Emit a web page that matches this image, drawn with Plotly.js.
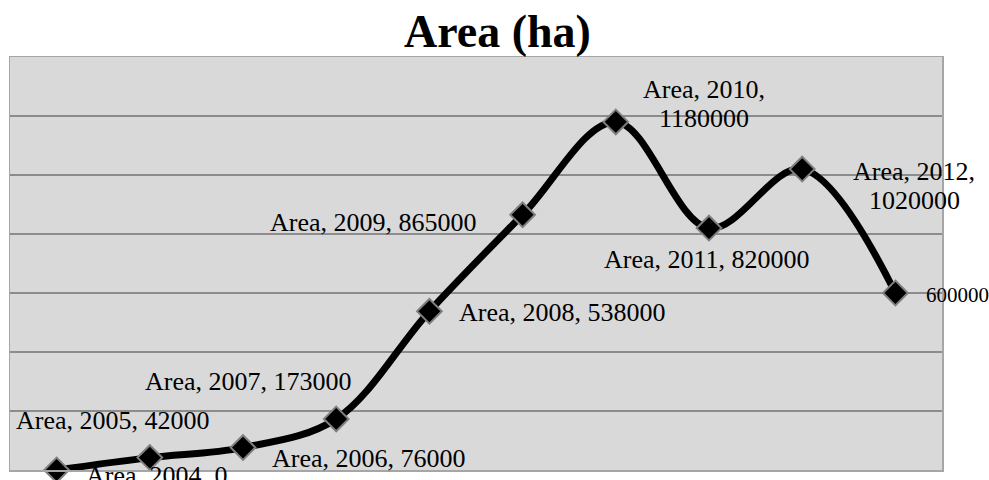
<!DOCTYPE html>
<html>
<head>
<meta charset="utf-8">
<script src="https://cdn.plot.ly/plotly-3.0.1.min.js"></script>
<style>html,body{margin:0;padding:0;background:#fff;}#chart{width:989px;height:480px;}</style>
</head>
<body>
<div id="chart"></div>
<script>
// ---- data ----
var seriesName = "Area";
var years = ["2004", "2005", "2006", "2007", "2008", "2009", "2010", "2011", "2012", "2013"];
var areaValues = [0, 42000, 76000, 173000, 538000, 865000, 1180000, 820000, 1020000, 600000];
// label style per point: "line" = one line, "wrap" = two lines, "value" = value only
var labelKinds = ["line", "line", "line", "line", "line", "line", "wrap", "line", "wrap", "value"];

// ---- label placement (pixel offsets from each point) ----
var labelDx = [100, -37, 126, -88, 133, -149, 88, -2, 112, 62];
var labelDy = [-5, 37, -11, 37, -1, -8, 18, -31, -17, -2];
var wrapGap = 29; // distance between the two lines of a wrapped label

var serif = "Liberation Serif, Times New Roman, serif";

function labelLines(i) {
  var k = labelKinds[i];
  if (k === "value") return [String(areaValues[i])];
  if (k === "wrap") return [seriesName + ", " + years[i] + ",", String(areaValues[i])];
  return [seriesName + ", " + years[i] + ", " + areaValues[i]];
}

var annotations = [];
years.forEach(function (y, i) {
  var lines = labelLines(i);
  lines.forEach(function (t, j) {
    var off = (lines.length - 1) / 2 - j;
    annotations.push({
      x: i, y: areaValues[i], xref: "x", yref: "y",
      text: t, showarrow: false,
      xshift: labelDx[i], yshift: labelDy[i] + off * wrapGap,
      xanchor: "center", yanchor: "middle",
      font: {family: serif, size: labelKinds[i] === "value" ? 21 : 26, color: "#000"}
    });
  });
});

var trace = {
  type: "scatter", mode: "lines+markers",
  x: years, y: areaValues, name: seriesName,
  cliponaxis: false,
  line: {color: "#000", width: 7, shape: "spline", smoothing: 1},
  marker: {symbol: "diamond", size: 19, color: "#000", line: {color: "#7f7f7f", width: 2}},
  hoverinfo: "skip"
};

var layout = {
  width: 989, height: 480,
  margin: {l: 10, r: 47, t: 57, b: 10},
  paper_bgcolor: "#ffffff",
  plot_bgcolor: "#d9d9d9",
  showlegend: false,
  title: {
    text: "<b>Area (ha)</b>",
    font: {family: serif, size: 46, color: "#000"},
    x: 0.503, xanchor: "center", y: 0.935, yanchor: "middle"
  },
  xaxis: {
    type: "category", range: [-0.5, 9.5],
    showticklabels: false, ticks: "", showgrid: false, zeroline: false,
    showline: true, mirror: true, linecolor: "#a6a6a6", linewidth: 1.5
  },
  yaxis: {
    range: [0, 1400000], dtick: 200000,
    showticklabels: false, ticks: "", zeroline: false,
    showgrid: true, gridcolor: "#8c8c8c", gridwidth: 1.5,
    showline: true, mirror: true, linecolor: "#a6a6a6", linewidth: 1.5
  },
  annotations: annotations
};

Plotly.newPlot("chart", [trace], layout, {staticPlot: true, displayModeBar: false});
</script>
</body>
</html>
